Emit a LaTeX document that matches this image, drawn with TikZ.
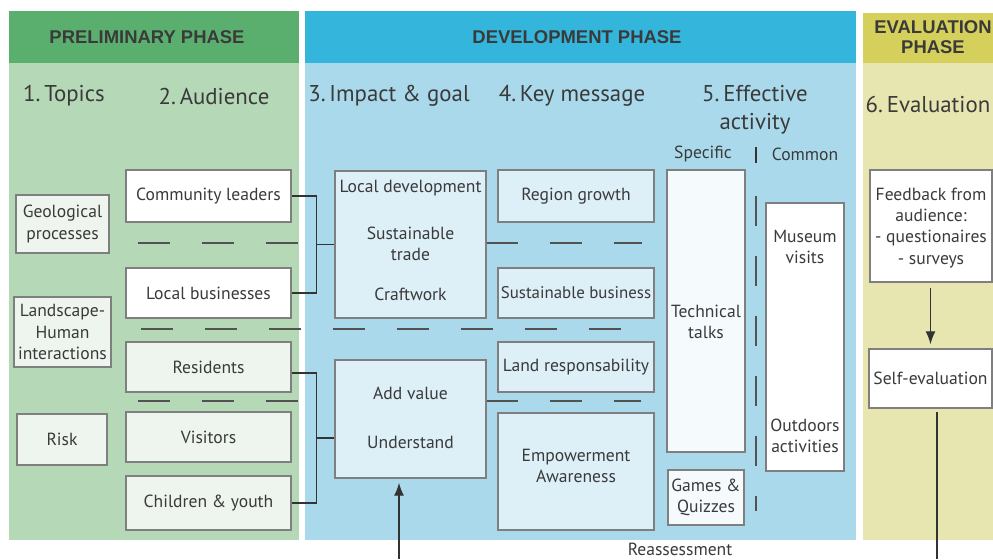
\documentclass[tikz,border=0pt]{standalone}
\usepackage{fontspec}
\setmainfont{PT Sans}
\newfontfamily\headfont{Liberation Sans}
\usetikzlibrary{calc,arrows.meta}
\definecolor{greenhead}{HTML}{5BAF6E}
\definecolor{greenbody}{HTML}{B5D8B6}
\definecolor{bluehead}{HTML}{33B5DC}
\definecolor{bluebody}{HTML}{AAD9EC}
\definecolor{yellowhead}{HTML}{D5CF5C}
\definecolor{yellowbody}{HTML}{E8E6B0}
\definecolor{topicfill}{HTML}{EEF5EE}
\definecolor{impactfill}{HTML}{DDEFF7}
\definecolor{talkfill}{HTML}{F5FAFC}
\definecolor{boxgray}{HTML}{7F7F7F}
\definecolor{txt}{HTML}{3A3A3A}
\definecolor{linegray}{HTML}{333333}
\tikzset{box/.style={draw=boxgray, line width=0.85pt, align=center, inner sep=2pt, text=txt, font=\fontsize{10}{12}\selectfont},
  topic/.style={box, fill=topicfill}, aud/.style={box, fill=white}, impact/.style={box, fill=impactfill},
  label/.style={text=txt, align=center, font=\fontsize{10}{12}\selectfont},
  head/.style={text=txt, align=center, font=\fontsize{13}{16}\selectfont},
  phase/.style={text=txt, align=center, font=\headfont\bfseries\fontsize{10.5}{12}\selectfont},
  link/.style={draw=linegray, line width=0.8pt},
  tip/.style={-{Latex[length=0.26cm,width=0.2cm]}},
  sep/.style={draw=linegray!85, line width=0.8pt, dash pattern=on 0.64cm off 0.64cm}}

\begin{document}
\begin{tikzpicture}[x=0.02cm,y=-0.02cm]
  \useasboundingbox (0,0) rectangle (993,559);
  \fill[white] (0,0) rectangle (993,559);

  % phases
  \fill[greenhead] (9,11) rectangle (299,63);
  \fill[greenbody] (9,63) rectangle (299,540);
  \fill[bluehead] (305,11) rectangle (856,63);
  \fill[bluebody] (305,63) rectangle (856,540);
  \fill[yellowhead] (863,13) rectangle (993,63);
  \fill[yellowbody] (863,63) rectangle (993,540);
  \node[phase] (ph1) at (147,37) {PRELIMINARY PHASE};
  \node[phase] (ph2) at (577,37) {DEVELOPMENT PHASE};
  \node[phase] (ph3) at (933,37) {EVALUATION\\[-1pt]PHASE};

  \node[head] (h1) at (64,96) {1.\,Topics};
  \node[head] (h2) at (214,96) {2.\,Audience};
  \node[head] (h3) at (389,96) {3.\,Impact \& goal};
  \node[head] (h4) at (572,96) {4.\,Key message};
  \node[head] (h5) at (755,110) {5.\,Effective\\activity};
  \node[head] (h6) at (928,104) {6.\,Evaluation};
  \node[label] (spec) at (703,154) {Specific};
  \node[label] (comn) at (805,154) {Common};

  % separators
  \draw[link] (756,147) -- (756,163);
  \draw[sep] (138,243) -- (298,243);
  \draw[sep] (486,243) -- (642,243);
  \draw[sep] (141,329) -- (621,329);
  \draw[sep] (138,401) -- (298,401);
  \draw[sep] (486,401) -- (641,401);
  \draw[sep, dash pattern=on 0.6cm off 0.6cm] (756,196) -- (756,511);

  % topics
  \node[topic, minimum width=1.86cm, minimum height=1.16cm] (geo) at (62.5,224) {Geological\\processes};
  \node[topic, minimum width=1.94cm, minimum height=1.4cm] (land) at (62.5,332) {Landscape-\\Human\\interactions};
  \node[topic, minimum width=1.8cm, minimum height=1.02cm] (risk) at (62,439.5) {Risk};

  % audience
  \node[aud, minimum width=3.3cm, minimum height=1.04cm] (comm) at (208.5,196) {Community leaders};
  \node[aud, minimum width=3.3cm, minimum height=1cm] (local) at (208.5,293) {Local businesses};
  \node[topic, minimum width=3.3cm, minimum height=1cm] (res) at (208.5,367) {Residents};
  \node[topic, minimum width=3.3cm, minimum height=1cm] (vis) at (208.5,437) {Visitors};
  \node[topic, minimum width=3.3cm, minimum height=1.08cm] (child) at (208.5,503) {Children \& youth};

  % impact & goal
  \node[impact, minimum width=3.02cm, minimum height=2.94cm] (imp1) at (410.5,244.5) {};
  \node[label] (locdev) at (410.5,188) {Local development};
  \node[label] (trade) at (410.5,243.5) {Sustainable\\trade};
  \node[label] (craft) at (410.5,294) {Craftwork};
  \node[impact, minimum width=3.02cm, minimum height=2.36cm] (imp2) at (410.5,419) {};
  \node[label] (addval) at (410.5,393) {Add value};
  \node[label] (under) at (410.5,442) {Understand};

  % key message
  \node[impact, minimum width=3.12cm, minimum height=1.04cm] (region) at (576,196) {Region growth};
  \node[impact, minimum width=3.12cm, minimum height=1cm, inner xsep=0pt, font=\fontsize{9.6}{12}\selectfont] (sbus) at (576,293) {Sustainable business};
  \node[impact, minimum width=3.12cm, minimum height=1cm] (lresp) at (576,367) {Land responsability};
  \node[impact, minimum width=3.12cm, minimum height=2.34cm] (empow) at (576,471.5) {};
  \node[label] (empowtxt) at (576,465.5) {Empowerment\\Awareness};

  % effective activity
  \node[box, fill=talkfill, minimum width=1.56cm, minimum height=5.64cm] (talks) at (706,311) {};
  \node[label] (talkstxt) at (706,322) {Technical\\talks};
  \node[box, fill=talkfill, minimum width=1.48cm, minimum height=1.1cm] (games) at (706,497.5) {Games \&\\Quizzes};
  \node[aud, minimum width=1.56cm, minimum height=5.36cm] (museum) at (805,337) {};
  \node[label] (musv) at (805,246.5) {Museum\\visits};
  \node[label] (outd) at (805,435.5) {Outdoors\\activities};

  % evaluation
  \node[aud, minimum width=2.44cm, minimum height=2.24cm] (feed) at (931,226) {};
  \node[label] (feedtxt) at (931,228) {Feedback from\\audience:\\- questionaires\\- surveys};
  \node[aud, minimum width=2.46cm, minimum height=1.18cm] (self) at (930.5,378.5) {Self-evaluation};
  \node[label] (reass) at (680,549) {Reassessment};

  % links
  \draw[link] (comm.east) -- ++(25,0) coordinate (br1) |- (local.east);
  \draw[link] (imp1.west) -- (imp1.west -| br1);
  \draw[link] (res.east) ++(0,6) -- ++(25,0) coordinate (br2) |- (child.east);
  \coordinate (mid2) at ($(br2)!.5!(br2 |- child.east)$);
  \draw[link] (mid2) -- (mid2 -| imp2.west);
  \draw[link, tip, shorten <=0.1cm, shorten >=0.08cm] (feed.south -| self.south) -- (self.north);
  \coordinate (r1) at (937,559);
  \coordinate (r2) at (399,559);
  \draw[link] (r1 |- self.south) ++(0,3) -- (r1);
  \draw[link, tip, shorten >=0.08cm] (r2) -- (r2 |- imp2.south);
\end{tikzpicture}
\end{document}
